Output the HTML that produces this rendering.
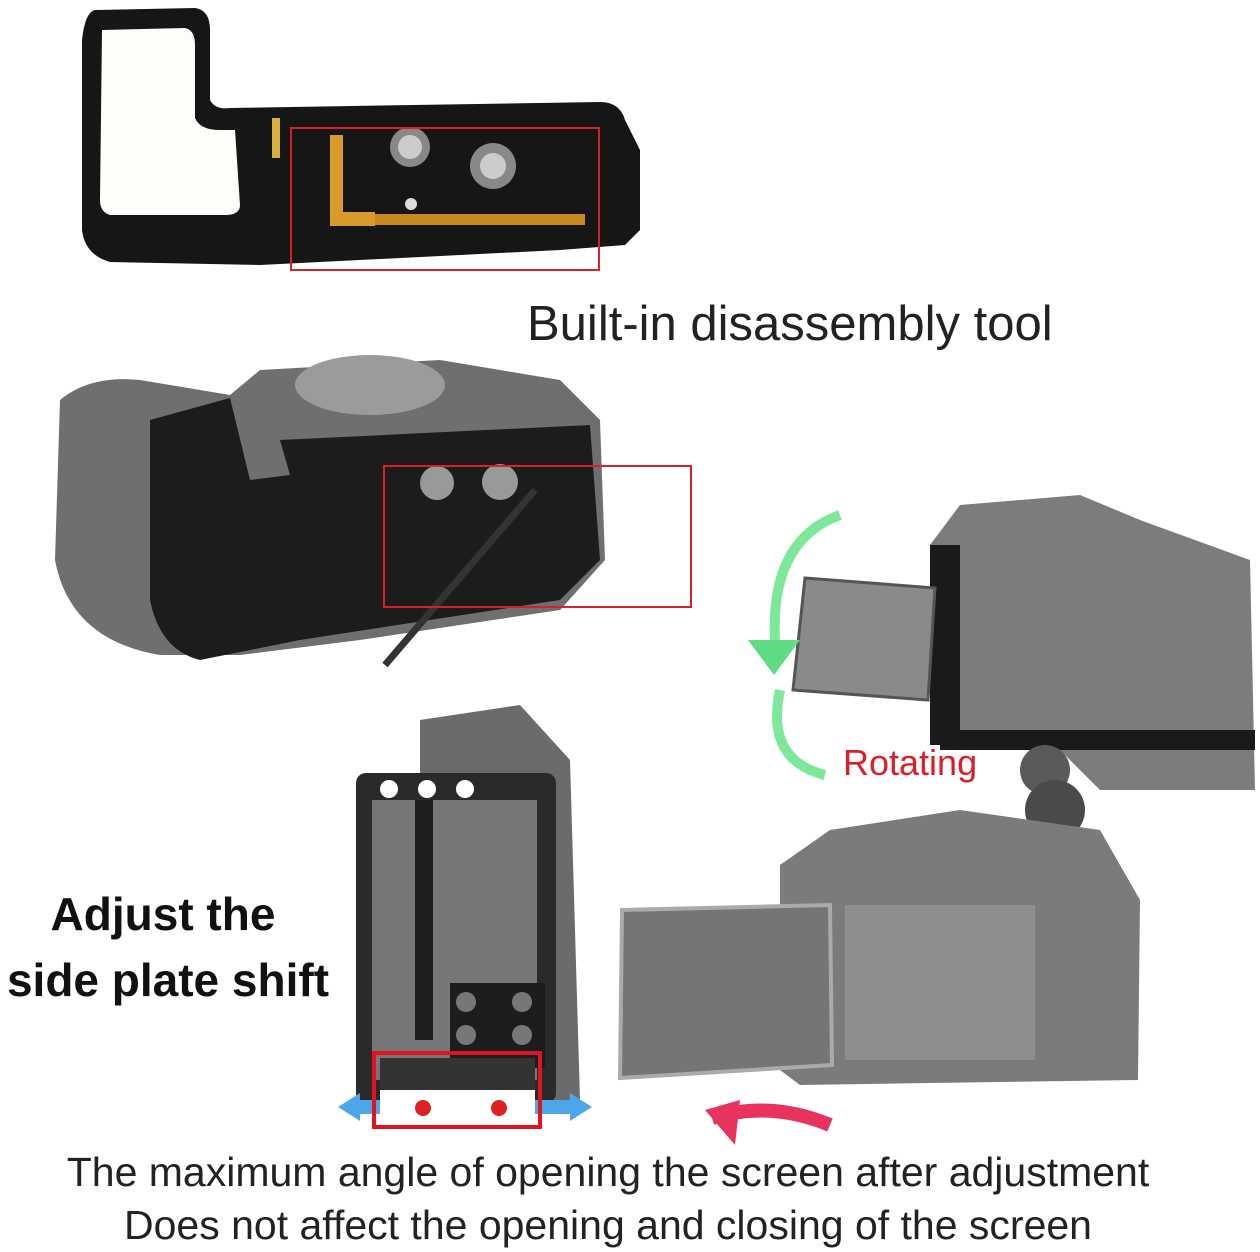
<!DOCTYPE html>
<html><head><meta charset="utf-8"><style>
html,body{margin:0;padding:0;background:#fff;width:1260px;height:1252px;overflow:hidden}
svg{display:block}
text{font-family:"Liberation Sans",sans-serif}
</style></head><body>
<svg width="1260" height="1252" viewBox="0 0 1260 1252" xmlns="http://www.w3.org/2000/svg">
<path d="M95,10 L195,8 Q210,10 210,30 L210,100 Q215,110 230,108 L600,102 Q620,102 625,120 L640,150 L640,230 L625,245 L560,250 L260,265 L110,262 Q85,255 82,230 L82,40 Q85,12 95,10 Z" fill="#161616"/>
<path d="M102,30 L185,28 Q195,30 195,45 L195,118 Q200,130 220,130 L235,130 L240,205 Q240,215 225,215 L110,215 Q100,212 100,200 Z" fill="#fdfdfa"/>
<rect x="272" y="118" width="8" height="40" fill="#d8b040"/>
<circle cx="410" cy="147" r="20" fill="#888"/><circle cx="410" cy="147" r="12" fill="#ccc"/>
<circle cx="493" cy="166" r="23" fill="#888"/><circle cx="493" cy="166" r="13" fill="#ccc"/>
<circle cx="411" cy="204" r="6" fill="#ddd"/>
<path d="M330,135 L343,135 L343,212 L375,212 L375,226 L330,226 Z" fill="#d89a2a"/>
<rect x="375" y="214" width="210" height="11" fill="#c88a20"/>
<rect x="291" y="128" width="308" height="142" fill="none" stroke="#d9202a" stroke-width="2"/>
<text x="527" y="340" font-size="49" fill="#222" style="font-weight:300">Built-in disassembly tool</text>
<path d="M60,400 Q90,375 140,380 L230,395 L260,370 L440,360 L560,380 L600,420 L605,560 L560,610 L360,640 L240,655 L160,655 Q70,640 55,560 Z" fill="#6e6f70"/>
<path d="M150,420 L230,398 L250,480 L290,475 L280,440 L590,425 L600,560 L560,600 L300,640 L200,660 Q160,650 150,600 Z" fill="#1c1c1d"/>
<ellipse cx="370" cy="385" rx="75" ry="30" fill="#9a9b9c"/>
<circle cx="437" cy="483" r="17" fill="#999"/><circle cx="500" cy="482" r="18" fill="#999"/>
<line x1="385" y1="665" x2="535" y2="490" stroke="#333" stroke-width="7"/>
<rect x="384" y="466" width="307" height="141" fill="none" stroke="#d9202a" stroke-width="2"/>
<path d="M930,545 L960,505 L1080,495 L1140,520 L1250,560 L1255,790 L1100,790 L1060,750 L940,745 L930,700 Z" fill="#7b7c7d"/>
<rect x="930" y="545" width="30" height="200" fill="#1a1a1a"/>
<rect x="940" y="730" width="315" height="20" fill="#1a1a1a"/>
<path d="M805,578 L935,588 L928,700 L793,690 Z" fill="#8a8a8a" stroke="#555" stroke-width="3"/>
<circle cx="1045" cy="770" r="25" fill="#5a5a5a"/>
<circle cx="1055" cy="810" r="30" fill="#4a4a4a"/>
<path d="M840,515 Q770,540 775,640" fill="none" stroke="#7de89a" stroke-width="10"/>
<path d="M748,640 L800,640 L774,675 Z" fill="#5fdc82"/>
<path d="M780,690 Q765,760 825,775" fill="none" stroke="#7de89a" stroke-width="10"/>
<text x="843" y="775" font-size="36" fill="#d9202a">Rotating</text>
<path d="M780,865 L830,830 L960,810 L1100,830 L1140,900 L1138,1080 L800,1085 L780,1070 Z" fill="#7a7b7c"/>
<rect x="845" y="905" width="190" height="155" fill="#8e8e8e"/>
<path d="M622,910 L830,905 L832,1065 L620,1078 Z" fill="#757575" stroke="#aaa" stroke-width="4"/>
<path d="M712,1118 Q770,1100 830,1125" fill="none" stroke="#e8335e" stroke-width="14"/>
<path d="M705,1110 L740,1100 L735,1145 Z" fill="#e8335e"/>
<path d="M420,720 L520,705 L570,760 L580,1100 L440,1100 L420,1000 Z" fill="#6a6b6c"/>
<rect x="356" y="773" width="200" height="330" rx="10" fill="#2a2a2b"/>
<rect x="372" y="800" width="165" height="280" fill="#777"/>
<rect x="415" y="800" width="18" height="240" fill="#1e1e1e"/>
<rect x="450" y="983" width="95" height="85" fill="#1d1d1d"/>
<circle cx="466" cy="1002" r="10" fill="#777"/><circle cx="522" cy="1002" r="10" fill="#777"/>
<circle cx="466" cy="1035" r="10" fill="#777"/><circle cx="522" cy="1035" r="10" fill="#777"/>
<circle cx="389" cy="789" r="9" fill="#fff"/><circle cx="427" cy="789" r="9" fill="#fff"/><circle cx="465" cy="789" r="9" fill="#fff"/>
<path d="M338,1107 L360,1093 L360,1100 L570,1100 L570,1093 L592,1107 L570,1121 L570,1114 L360,1114 L360,1121 Z" fill="#4da6e8"/>
<rect x="380" y="1058" width="155" height="32" fill="#333"/>
<rect x="380" y="1090" width="155" height="33" fill="#fff"/>
<circle cx="423" cy="1108" r="8" fill="#e02020"/><circle cx="499" cy="1108" r="8" fill="#e02020"/>
<rect x="374" y="1053" width="166" height="74" fill="none" stroke="#e0141e" stroke-width="4"/>
<text x="163" y="930" font-size="46" font-weight="bold" fill="#111" text-anchor="middle">Adjust the</text>
<text x="168" y="996" font-size="46" font-weight="bold" fill="#111" text-anchor="middle">side plate shift</text>
<text x="608" y="1186" font-size="41" fill="#222" text-anchor="middle" style="font-weight:300">The maximum angle of opening the screen after adjustment</text>
<text x="608" y="1239" font-size="41" fill="#222" text-anchor="middle" style="font-weight:300">Does not affect the opening and closing of the screen</text>
</svg>
</body></html>
